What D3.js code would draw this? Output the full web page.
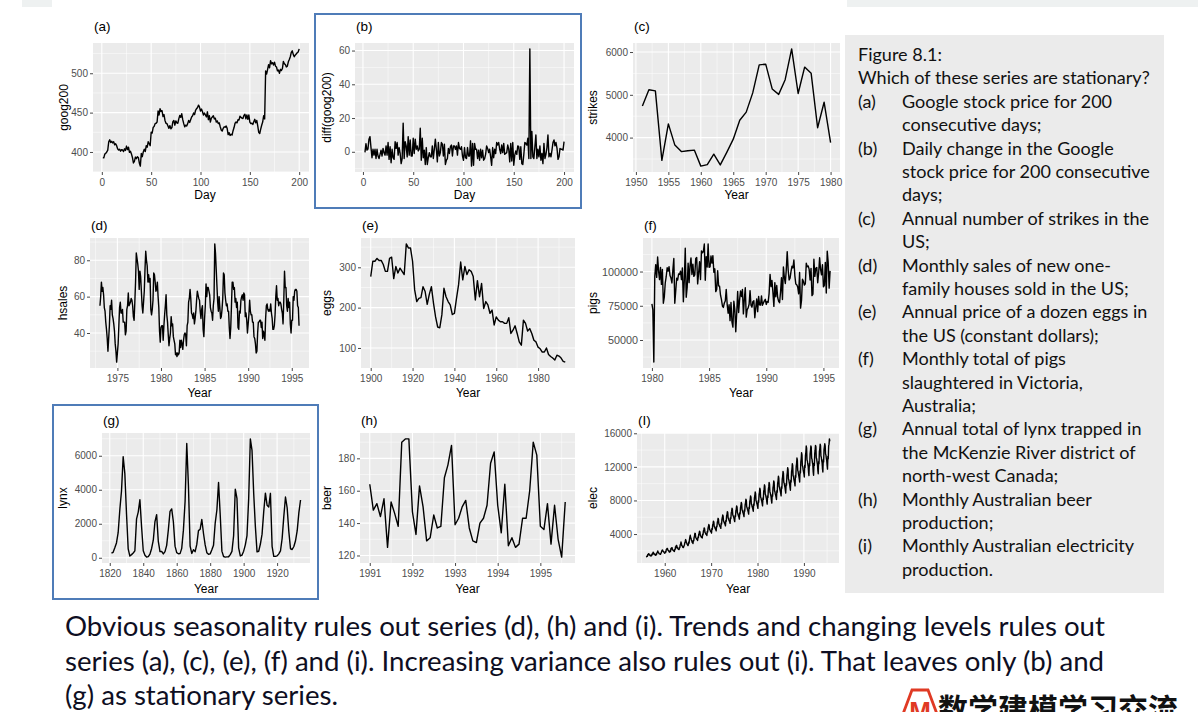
<!DOCTYPE html>
<html><head><meta charset="utf-8">
<script src="https://cdn.jsdelivr.net/npm/d3@7"></script>
<style>body{margin:0;background:#fff}svg{display:block}</style>
</head><body>
<svg id="c" width="1203" height="712"></svg>
<script>
// ---------------- DATA ----------------
const goog200 = [
392.8,392.5,397.3,398.3,400.0,402.3,413.0,415.5,412.0,413.5,
411.5,413.0,409.0,410.5,408.0,404.0,402.5,403.5,401.0,403.0,
402.5,400.5,404.0,402.0,407.5,403.0,406.0,399.5,401.0,397.5,
393.0,386.0,388.0,393.5,391.5,394.0,393.0,386.0,382.0,398.0,
394.0,400.0,403.5,400.5,408.0,406.0,413.0,410.5,408.0,425.0,
424.0,431.0,432.5,436.0,436.5,438.0,452.0,447.0,455.0,451.5,
452.5,445.0,447.5,440.0,436.5,436.0,433.0,430.0,433.5,429.5,
431.0,438.5,440.0,434.0,439.5,437.0,436.5,442.0,446.5,444.0,
448.5,441.0,436.0,432.0,434.0,433.0,436.0,440.0,437.5,441.0,
444.5,446.0,449.5,447.5,453.0,455.0,456.5,459.5,457.0,452.0,
454.5,451.0,447.0,449.5,447.0,444.5,451.0,441.0,446.0,438.0,
443.0,444.5,446.0,442.0,443.0,438.0,439.5,436.0,437.0,432.0,
428.0,426.5,430.0,432.0,431.5,433.0,430.0,422.0,424.5,421.0,
422.5,421.5,427.0,431.0,436.5,438.0,437.0,441.0,440.5,445.5,
444.0,443.0,442.5,446.5,448.0,442.0,447.0,441.5,447.0,438.0,
436.0,436.5,435.0,438.5,441.5,437.0,440.0,433.0,425.0,423.5,
429.0,434.0,438.0,446.0,442.0,503.0,499.0,505.0,511.0,507.0,
516.0,512.0,513.5,510.5,514.0,509.0,508.0,503.0,504.0,500.0,
505.0,503.5,506.0,515.0,512.0,511.0,508.0,509.0,514.5,517.5,
521.0,526.5,528.5,524.0,521.0,523.0,524.5,526.0,527.0,531.0];

// daily changes, days 2..200
const goog200Diff = [
-0.3,4.8,1.0,1.7,7.5,9.0,2.5,-3.5,1.5,-2.0,
1.5,-4.0,1.5,-2.5,-4.0,-1.5,1.0,-2.5,2.0,-0.5,
-2.0,3.5,-2.0,5.5,-4.5,3.0,-6.5,1.5,-3.5,-4.5,
6.0,2.0,5.5,-2.0,2.5,-1.0,-7.0,-4.0,17.0,-4.0,
6.0,3.5,-3.0,9.0,-2.0,7.0,-2.5,-2.5,8.0,-1.0,
7.5,1.5,3.5,0.5,1.5,14.0,-5.0,8.0,-3.5,1.0,
-7.5,2.5,-7.5,-3.5,-0.5,-3.0,-3.0,3.5,-4.0,1.5,
7.5,1.5,-6.0,5.5,-2.5,-0.5,5.5,4.5,-2.5,4.5,
-7.5,-5.0,-4.0,2.0,-1.0,3.0,4.0,-2.5,3.5,3.5,
1.5,3.5,-2.0,5.5,2.0,1.5,3.0,-2.5,-5.0,2.5,
-3.5,-4.0,2.5,-2.5,-2.5,6.5,-8.5,5.0,-8.0,5.0,
1.5,1.5,-4.0,1.0,-5.0,1.5,-3.5,1.0,-5.0,-4.0,
-1.5,3.5,2.0,-0.5,1.5,-3.0,-8.0,2.5,-3.5,1.5,
-1.0,5.5,4.0,5.5,1.5,-1.0,4.0,-0.5,5.0,-1.5,
-1.0,-0.5,4.0,1.5,-6.0,5.0,-5.5,5.5,-8.0,-2.0,
0.5,-1.5,3.5,3.0,-4.5,3.0,-7.0,-7.5,-1.5,5.5,
5.0,4.0,8.0,-4.0,61.0,-4.0,12.0,-3.0,-4.0,3.0,
10.0,-4.0,1.5,-3.0,3.5,-5.0,-1.0,-7.0,5.0,-4.0,
-1.5,2.5,10.0,-3.0,-1.0,-3.0,1.0,5.5,7.0,3.5,
5.5,2.0,-4.5,-3.0,2.0,1.5,1.5,1.0,6.0];

// annual strikes 1951-1980
const strikes = [4737,5117,5091,3468,4320,3825,3673,3694,3708,3333,3367,3614,3362,3655,3963,
4405,4595,5045,5700,5716,5138,5010,5353,6074,5031,5648,5506,4230,4827,3885];

// monthly hsales Jan 1973 - Nov 1995
const hsales = [
55,60,68,63,65,61,54,52,46,42,37,30,
37,44,55,53,58,50,48,45,41,34,30,24,
29,34,44,54,57,51,51,53,46,46,46,39,
41,53,55,62,55,56,57,59,58,55,49,47,
57,68,84,81,78,74,64,74,71,63,55,51,
57,63,75,85,80,77,68,72,68,70,53,50,
53,58,73,72,68,63,64,68,60,54,41,35,
43,44,44,36,44,50,55,61,50,46,39,33,
37,40,49,44,45,38,36,34,28,29,27,29,
28,29,36,32,36,34,31,36,39,40,39,33,
44,46,57,59,64,59,51,50,48,51,45,48,
52,58,63,61,59,58,52,48,53,55,42,38,
48,55,67,60,65,65,63,61,54,52,51,47,
55,59,89,84,75,66,57,52,60,54,48,49,
53,59,73,72,62,58,55,56,52,52,43,37,
43,55,68,68,64,65,57,59,54,57,43,42,
52,51,58,60,61,58,62,61,49,51,47,40,
45,50,58,52,50,50,46,46,38,37,34,29,
30,40,46,46,47,47,43,46,37,41,39,36,
48,55,56,53,52,53,52,56,51,48,42,42,
44,50,60,66,58,59,55,57,57,56,53,51,
45,58,74,65,65,55,52,59,54,57,45,40,
47,47,60,58,63,64,64,63,55,54,44];

// annual eggs price 1900-1993
const eggs = [
277,315,315,322,317,317,307,290,290,322,
325,272,302,286,298,290,282,358,348,348,
315,244,215,223,225,252,240,208,233,252,
211,177,152,150,182,248,227,215,207,183,
186,223,257,313,269,302,282,294,290,277,
219,267,227,260,198,215,207,186,194,157,
177,169,165,165,161,161,175,136,144,155,
136,115,107,169,161,142,148,136,119,115,
102,98,90,90,100,84,79,75,70,82,
80,75,67,65];

// monthly pigs slaughtered Jan 1980 - Aug 1995
const pigs = [
76378,71947,33873,96428,105084,95741,110647,100331,94133,103055,90595,101457,
76889,81291,91643,96228,102736,100264,103491,97027,95240,91680,101259,109564,
76892,85773,95210,93771,98202,97906,100306,94089,102680,77919,93561,117062,
81225,88357,106175,91922,104114,109959,97880,105386,96479,97580,109490,110191,
90974,98981,107188,94177,115097,113696,114532,120110,93607,110925,103312,120184,
103069,103351,111331,106161,111590,99447,101987,85333,86970,100561,89543,89265,
82719,79498,74846,73819,77029,78446,86978,75878,69571,75722,64182,77357,
63292,59380,78332,72381,55971,69750,85472,70133,79125,85805,81778,86852,
69069,79556,88174,66698,72258,73445,76131,86082,75443,73969,78139,78646,
66269,73776,80034,70694,81823,75640,75540,82229,75345,77034,78589,79769,
75982,78074,77588,84100,97966,89051,93503,84747,74531,91900,81635,89797,
81022,78265,77271,85043,95418,79568,103283,95770,91297,101244,114525,101139,
93866,95171,100183,103926,102643,108387,97077,90901,90336,88732,83759,99267,
73292,78943,94399,92937,90130,91055,106062,103560,104075,101783,93791,102313,
82413,83534,109011,96499,102430,103002,91815,99067,110067,101599,97646,104930,
88905,89936,106723,84307,114896,106749,87892,100506];

// annual lynx trappings 1821-1934
const lynx = [
269,321,585,871,1475,2821,3928,5943,4950,2577,523,98,184,279,409,2285,2685,3409,1824,409,
151,45,68,213,546,1033,2129,2536,957,361,377,225,360,731,1638,2725,2871,2119,684,299,
236,245,552,1623,3311,6721,4254,687,255,473,358,784,1594,1676,2251,1426,756,299,201,229,
469,736,2042,2811,4431,2511,389,73,39,49,59,188,377,1292,4031,3495,587,105,153,387,
758,1307,3465,6991,6313,3794,1836,345,382,808,1388,2713,3800,3091,2985,3790,674,81,80,108,
229,399,1132,2432,3574,2935,1537,529,485,662,1000,1590,2657,3396];

// monthly beer Jan 1991 - Aug 1995
const beer = [
164,148,152,144,155,125,153,146,138,190,192,192,
147,133,163,150,129,131,145,137,138,168,176,188,
139,143,150,154,137,129,128,140,143,151,177,184,
151,134,164,126,131,125,127,143,143,160,190,182,
138,136,152,127,151,130,119,153];

// monthly electricity Jan 1956 - Aug 1995
const elec = [
1254,1290,1379,1346,1535,1555,1655,1651,1500,1538,1486,1394,
1409,1387,1543,1502,1693,1616,1841,1787,1631,1649,1586,1500,
1497,1463,1648,1595,1777,1824,1994,1835,1787,1699,1633,1645,
1597,1577,1709,1756,1936,2052,2105,2016,1914,1925,1824,1765,
1721,1752,1914,1857,2159,2195,2287,2276,2096,2055,2004,1924,
1851,1839,2019,1937,2270,2251,2382,2364,2129,2110,2072,1980,
1995,1932,2171,2162,2489,2424,2641,2630,2324,2412,2284,2186,
2184,2144,2379,2383,2717,2774,3051,2891,2613,2600,2493,2410,
2390,2463,2616,2734,2970,3125,3342,3207,2964,2919,2764,2732,
2622,2698,3054,2914,3358,3633,3850,3575,3478,3289,3187,3002,
3003,2865,3249,3193,3602,3755,4084,4072,3613,3530,3439,3371,
3344,3230,3648,3572,3990,4104,4332,4256,3838,3800,3686,3610,
3652,3528,3984,3901,4358,4482,4731,4648,4192,4150,4026,3943,
3960,3825,4320,4230,4725,4860,5130,5040,4545,4500,4365,4275,
4268,4123,4656,4559,5093,5238,5529,5432,4899,4850,4705,4608,
4532,4378,4944,4841,5408,5562,5871,5768,5202,5150,4996,4893,
4840,4675,5280,5170,5775,5940,6270,6160,5555,5500,5335,5225,
5148,4973,5616,5499,6143,6318,6669,6552,5909,5850,5675,5558,
5456,5270,5952,5828,6510,6696,7068,6944,6262,6200,6014,5890,
5676,5483,6192,6063,6773,6966,7353,7224,6515,6450,6257,6128,
5984,5780,6528,6392,7140,7344,7752,7616,6868,6800,6596,6460,
6292,6078,6864,6721,7508,7722,8151,8008,7222,7150,6936,6793,
6600,6375,7200,7050,7875,8100,8550,8400,7575,7500,7275,7125,
6952,6715,7584,7426,8295,8532,9006,8848,7979,7900,7663,7505,
7304,7055,7968,7802,8715,8964,9462,9296,8383,8300,8051,7885,
7612,7353,8304,8131,9083,9342,9861,9688,8737,8650,8391,8218,
7832,7565,8544,8366,9345,9612,10146,9968,8989,8900,8633,8455,
7964,7693,8688,8507,9503,9774,10317,10136,9141,9050,8779,8598,
8404,8118,9168,8977,10028,10314,10887,10696,9646,9550,9264,9073,
8844,8543,9648,9447,10553,10854,11457,11256,10151,10050,9749,9548,
9196,8883,10032,9823,10973,11286,11913,11704,10555,10450,10137,9928,
9548,9223,10416,10199,11393,11718,12369,12152,10959,10850,10525,10308,
10076,9733,10992,10763,12023,12366,13053,12824,11565,11450,11107,10878,
10560,10200,11520,11280,12600,12960,13680,13440,12120,12000,11640,11400,
11176,10795,12192,11938,13335,13716,14478,14224,12827,12700,12319,12065,
11352,10965,12384,12126,13545,13932,14506,14348,13029,12900,12513,12255,
11396,11008,12432,12173,13598,13986,14563,14404,13080,12950,12562,12303,
11572,11178,12624,12361,13808,14102,14691,14528,13282,13150,12756,12493,
11792,11390,12864,12596,14070,14372,14750,14500,13534,13400,12998,12730,
12144,11730,13248,12972,14490,14704,15330,15050];

// tick values
const dayTicks = [0,50,100,150,200];
const googTicks = [400,450,500];
const diffTicks = [0,20,40,60];
const strikesXTicks = [1950,1955,1960,1965,1970,1975,1980];
const strikesYTicks = [4000,5000,6000];
const hsalesXTicks = [1975,1980,1985,1990,1995];
const hsalesYTicks = [40,60,80];
const eggsXTicks = [1900,1920,1940,1960,1980];
const eggsYTicks = [100,200,300];
const pigsXTicks = [1980,1985,1990,1995];
const pigsYTicks = [50000,75000,100000];
const lynxXTicks = [1820,1840,1860,1880,1900,1920];
const lynxYTicks = [0,2000,4000,6000];
const beerXTicks = [1991,1992,1993,1994,1995];
const beerYTicks = [120,140,160,180];
const elecXTicks = [1960,1970,1980,1990];
const elecYTicks = [4000,8000,12000,16000];

// text
const boxHeader = ["Figure 8.1:", "Which of these series are stationary?"];
const boxItems = [
 ["(a)", ["Google stock price for 200", "consecutive days;"]],
 ["(b)", ["Daily change in the Google", "stock price for 200 consecutive", "days;"]],
 ["(c)", ["Annual number of strikes in the", "US;"]],
 ["(d)", ["Monthly sales of new one-", "family houses sold in the US;"]],
 ["(e)", ["Annual price of a dozen eggs in", "the US (constant dollars);"]],
 ["(f)", ["Monthly total of pigs", "slaughtered in Victoria,", "Australia;"]],
 ["(g)", ["Annual total of lynx trapped in", "the McKenzie River district of", "north-west Canada;"]],
 ["(h)", ["Monthly Australian beer", "production;"]],
 ["(i)", ["Monthly Australian electricity", "production."]]
];
const bottomLines = [
 "Obvious seasonality rules out series (d), (h) and (i). Trends and changing levels rules out",
 "series (a), (c), (e), (f) and (i). Increasing variance also rules out (i). That leaves only (b) and",
 "(g) as stationary series."
];
const logoText = "数学建模学习交流";

// ---------------- helpers ----------------
const svg = d3.select("#c");
const AX = "'Liberation Sans', Arial, sans-serif";

function seriesPoints(vals, start, step) { return vals.map((v,i)=>[start + i*step, v]); }

function panel(cfg) {
  const [x0,y0,x1,y1] = cfg.rect;
  const data = cfg.data;
  const xe = d3.extent(data, d=>d[0]), ye = d3.extent(data, d=>d[1]);
  const xp = (xe[1]-xe[0])*0.05, yp = (ye[1]-ye[0])*0.05;
  const x = d3.scaleLinear().domain([xe[0]-xp, xe[1]+xp]).range([x0,x1]);
  const y = d3.scaleLinear().domain([ye[0]-yp, ye[1]+yp]).range([y1,y0]);
  const g = svg.append("g");
  g.append("rect").attr("x",x0).attr("y",y0).attr("width",x1-x0).attr("height",y1-y0).attr("fill","#ebebeb");
  function minors(t, dom) {
    const st = t[1]-t[0], out=[];
    const ext = [t[0]-st, ...t, t[t.length-1]+st];
    for (let i=0;i<ext.length-1;i++){ const m=(ext[i]+ext[i+1])/2; if(m>dom[0]&&m<dom[1]) out.push(m); }
    return out;
  }
  const xd = x.domain(), yd = y.domain();
  g.append("g").selectAll("line").data(minors(cfg.xTicks,xd)).join("line").attr("x1",d=>x(d)).attr("x2",d=>x(d)).attr("y1",y0).attr("y2",y1).attr("stroke","#fff").attr("stroke-width",0.5);
  g.append("g").selectAll("line").data(minors(cfg.yTicks,yd)).join("line").attr("y1",d=>y(d)).attr("y2",d=>y(d)).attr("x1",x0).attr("x2",x1).attr("stroke","#fff").attr("stroke-width",0.5);
  g.append("g").selectAll("line").data(cfg.xTicks.filter(t=>t>=xd[0]&&t<=xd[1])).join("line").attr("x1",d=>x(d)).attr("x2",d=>x(d)).attr("y1",y0).attr("y2",y1).attr("stroke","#fff").attr("stroke-width",1.1);
  g.append("g").selectAll("line").data(cfg.yTicks.filter(t=>t>=yd[0]&&t<=yd[1])).join("line").attr("y1",d=>y(d)).attr("y2",d=>y(d)).attr("x1",x0).attr("x2",x1).attr("stroke","#fff").attr("stroke-width",1.1);
  g.append("path").datum(data).attr("fill","none").attr("stroke","#000").attr("stroke-width",1.4).attr("stroke-linejoin","round")
   .attr("d", d3.line().x(d=>x(d[0])).y(d=>y(d[1])));
  const xa = g.append("g").attr("transform",`translate(0,${y1})`).call(d3.axisBottom(x).tickValues(cfg.xTicks).tickSize(3).tickPadding(4).tickFormat(d3.format("d")));
  const ya = g.append("g").attr("transform",`translate(${x0},0)`).call(d3.axisLeft(y).tickValues(cfg.yTicks).tickSize(3).tickPadding(2).tickFormat(d3.format("d")));
  [xa,ya].forEach((a,i)=>{
    a.select(".domain").remove();
    a.selectAll("line").attr("stroke","#333").attr("stroke-width",0.9);
    a.selectAll("text").attr("fill","#4d4d4d").style("font-family",AX).style("font-size",(i===1 && cfg.yFs ? cfg.yFs : 10)+"px");
  });
  g.append("text").attr("x",x0+1).attr("y",cfg.titleY).text(cfg.title).style("font-family",AX).style("font-size","13.5px").attr("fill","#000");
  g.append("text").attr("x",(x0+x1)/2 + (cfg.xtOff||0)).attr("y",cfg.xTitleY).attr("text-anchor","middle").text(cfg.xTitle).style("font-family",AX).style("font-size","12px").attr("fill","#000");
  g.append("text").attr("transform",`translate(${cfg.yTitleX},${(y0+y1)/2}) rotate(-90)`).attr("text-anchor","middle").text(cfg.yTitle).style("font-family",AX).style("font-size","12px").attr("fill","#000");
}

// ---------------- background bits ----------------
svg.append("rect").attr("x",22).attr("y",0).attr("width",30).attr("height",7).attr("fill","#eef1f1");
svg.append("rect").attr("x",847).attr("y",0).attr("width",351).attr("height",7).attr("fill","#eef1f1");

// ---------------- panels ----------------
const R1 = {titleY:31, xTitleY:199}, R2 = {titleY:230, xTitleY:397}, R3 = {titleY:425, xTitleY:593};
panel({...R1, rect:[93,43,309,172], data:seriesPoints(goog200,1,1), xTicks:dayTicks, yTicks:googTicks, title:"(a)", xTitle:"Day", yTitle:"goog200", yTitleX:68, xtOff:4});
panel({...R1, rect:[355,43,574,172], data:seriesPoints(goog200Diff,2,1), xTicks:dayTicks, yTicks:diffTicks, title:"(b)", xTitle:"Day", yTitle:"diff(goog200)", yTitleX:331});
panel({...R1, rect:[633,43,840,172], data:seriesPoints(strikes,1951,1), xTicks:strikesXTicks, yTicks:strikesYTicks, title:"(c)", xTitle:"Year", yTitle:"strikes", yTitleX:597});
panel({...R2, rect:[90,238,309,368], data:seriesPoints(hsales,1973,1/12), xTicks:hsalesXTicks, yTicks:hsalesYTicks, title:"(d)", xTitle:"Year", yTitle:"hsales", yTitleX:67});
panel({...R2, rect:[361,238,575,368], data:seriesPoints(eggs,1900,1), xTicks:eggsXTicks, yTicks:eggsYTicks, title:"(e)", xTitle:"Year", yTitle:"eggs", yTitleX:331});
panel({...R2, rect:[643,238,839,368], data:seriesPoints(pigs,1980,1/12), xTicks:pigsXTicks, yTicks:pigsYTicks, title:"(f)", xTitle:"Year", yTitle:"pigs", yTitleX:597, yFs:10.8});
panel({...R3, rect:[102,433,310,563], data:seriesPoints(lynx,1821,1), xTicks:lynxXTicks, yTicks:lynxYTicks, title:"(g)", xTitle:"Year", yTitle:"lynx", yTitleX:67});
panel({...R3, rect:[360,433,575,563], data:seriesPoints(beer,1991,1/12), xTicks:beerXTicks, yTicks:beerYTicks, title:"(h)", xTitle:"Year", yTitle:"beer", yTitleX:331});
panel({...R3, rect:[637,433,839,563], data:seriesPoints(elec,1956,1/12), xTicks:elecXTicks, yTicks:elecYTicks, title:"(I)", xTitle:"Year", yTitle:"elec", yTitleX:597});

// blue highlight frames
svg.append("rect").attr("x",315).attr("y",14).attr("width",266).attr("height",194).attr("fill","none").attr("stroke","#4f7cb8").attr("stroke-width",2);
svg.append("rect").attr("x",53).attr("y",405).attr("width",265).attr("height",194).attr("fill","none").attr("stroke","#4f7cb8").attr("stroke-width",2);

// ---------------- text box ----------------
const TF = "Lato, 'Open Sans', sans-serif";
function fitSize(str, target, base) {
  const t = svg.append("text").text(str).style("font-family",TF).style("font-size",base+"px");
  const w = t.node().getComputedTextLength(); t.remove();
  return base*target/w;
}
svg.append("rect").attr("x",845).attr("y",35).attr("width",319).attr("height",558).attr("fill","#ebebeb");
const bfs = fitSize(boxHeader[1], 292, 20);
const boxLines = [];
boxHeader.forEach(s=>boxLines.push({lab:null, s, head:true}));
boxItems.forEach(([lab, ls])=>ls.forEach((s,i)=>boxLines.push({lab: i===0?lab:null, s, head:false})));
const bt = svg.append("g").style("font-family",TF).style("font-size",bfs+"px").attr("fill","#111");
boxLines.forEach((l,k)=>{
  const yy = 61 + k*23.4;
  if (l.head) bt.append("text").attr("x",858).attr("y",yy).text(l.s);
  else {
    if (l.lab) bt.append("text").attr("x",858).attr("y",yy).text(l.lab);
    bt.append("text").attr("x",902).attr("y",yy).text(l.s);
  }
});

// ---------------- bottom text ----------------
const tfs = fitSize(bottomLines[0], 1040, 26);
const bb = svg.append("g").style("font-family",TF).style("font-size",tfs+"px").attr("fill","#0e0e22");
bottomLines.forEach((s,i)=>bb.append("text").attr("x",65).attr("y",636+i*34.5).text(s));

// ---------------- logo ----------------
svg.append("path").attr("d","M903,714 L912,690 L928,690 L937,714").attr("fill","none").attr("stroke","#e03a24").attr("stroke-width",2.8);
svg.append("text").attr("x",920).attr("y",720).attr("text-anchor","middle").text("M").style("font-family",AX).style("font-weight","bold").style("font-size","26px").attr("fill","#e03a24");
svg.append("text").attr("x",938).attr("y",720).text(logoText).style("font-family","'Noto Sans CJK SC', sans-serif").style("font-weight","bold").style("font-size","30px").attr("fill","#111");
</script>
</body></html>
